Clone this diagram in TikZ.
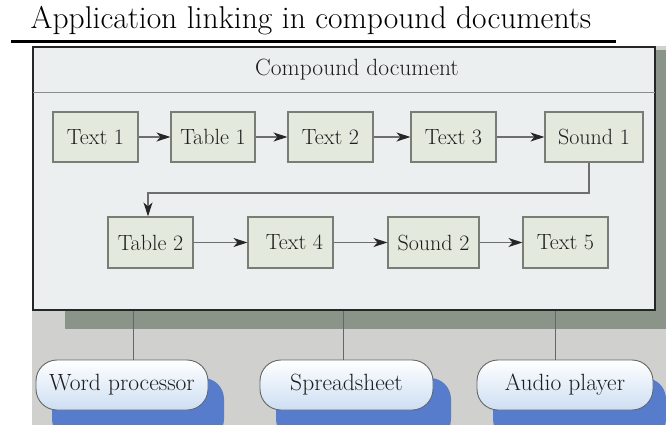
\documentclass[tikz,border=0pt]{standalone}
\usetikzlibrary{arrows.meta,calc}
\definecolor{bggray}{RGB}{208,208,206}
\definecolor{shadowgray}{RGB}{139,148,137}
\definecolor{docfill}{RGB}{236,239,240}
\definecolor{boxfill}{RGB}{228,233,221}
\definecolor{boxline}{RGB}{120,126,118}
\definecolor{linkgray}{RGB}{110,110,110}
\definecolor{pillblue}{RGB}{88,124,204}
\definecolor{pilledge}{RGB}{205,222,242}
\definecolor{txt}{RGB}{30,30,30}
\tikzset{
  docitem/.style={draw=boxline, fill=boxfill, line width=1.1pt, minimum width=85pt, minimum height=50pt, inner sep=0pt, font=\fontsize{22}{24}\selectfont, text=txt},
  pill/.style={draw=black!60, line width=0.9pt, rounded corners=21pt, top color=white, bottom color=pilledge, minimum height=50pt, inner sep=0pt, font=\fontsize{23.5}{25}\selectfont, text=txt},
  pillshadow/.style={fill=pillblue, rounded corners=21pt},
  link/.style={draw=linkgray, line width=1.1pt, -{Stealth[length=14pt,width=9pt,inset=4pt,color=black!85]}},
  tie/.style={draw=black!60, line width=1pt}
}
\begin{document}
\begin{tikzpicture}[x=1pt,y=-1pt]
\clip (0,0) rectangle (666,425);
\fill[white] (0,0) rectangle (666,425);
% title
\node[anchor=base, font=\fontsize{31.5}{34}\selectfont, inner sep=0pt] (title) at (311,29) {Application linking in compound documents};
\coordinate (ul1) at (11,42);
\coordinate (ul2) at (616,42);
\draw[line width=3pt] (ul1) -- (ul2);
% backgrounds
\fill[bggray] (32,46) rectangle (680,440);
\fill[shadowgray] (65,50) rectangle (680,329);
\node[draw=black!85, line width=2.4pt, fill=docfill, minimum width=622pt, minimum height=263pt, inner sep=0pt] (doc) at (344,178.5) {};
\coordinate (hl) at (0,93);
\draw[draw=black!45, line width=1pt] ($(doc.west |- hl)+(1.5,0)$) -- ($(doc.east |- hl)+(-1.5,0)$);
\node[font=\fontsize{23.5}{25}\selectfont, text=txt] (hdr) at (357,70) {Compound document};
% row 1
\node[docitem] (t1) at (95.5,137) {Text 1};
\node[docitem, minimum width=84pt] (tb1) at (213,137) {Table 1};
\node[docitem] (t2) at (330.5,137) {Text 2};
\node[docitem] (t3) at (453.5,137) {Text 3};
\node[docitem, minimum width=98pt] (s1) at (594,137) {Sound 1};
% row 2
\node[docitem, minimum height=51pt] (tb2) at (150.5,242.5) {Table 2};
\node[docitem, minimum height=51pt] (t4) at (290.5,242.5) {\hspace{8pt}Text 4};
\node[docitem, minimum height=51pt, minimum width=91pt] (s2) at (433.5,242.5) {Sound 2};
\node[docitem, minimum height=51pt] (t5) at (565.5,242.5) {Text 5};
% links
\draw[link] (t1) -- (tb1);
\draw[link] (tb1) -- (t2);
\draw[link] (t2) -- (t3);
\draw[link] (t3) -- (s1);
\coordinate (k1) at (589,193);
\coordinate (k2) at (148,193);
\draw[link] (s1.south -| k1) -- (k1) -- (k2) -- (tb2.north -| k2);
\draw[link] (tb2) -- (t4);
\draw[link] (t4) -- (s2);
\draw[link] (s2) -- (t5);
% applications
\fill[pillshadow] (52,378) rectangle (224,440);
\fill[pillshadow] (276,378) rectangle (451,440);
\fill[pillshadow] (493,378) rectangle (666,440);
\node[pill, minimum width=172pt] (wp) at (122,385) {Word processor};
\node[pill, minimum width=173pt] (ss) at (346.5,385) {Spreadsheet};
\node[pill, minimum width=176pt] (ap) at (565,385) {Audio player};
\coordinate (c1) at (133,0);
\coordinate (c2) at (343,0);
\coordinate (c3) at (555,0);
\draw[tie] (doc.south -| c1) -- (wp.north -| c1);
\draw[tie] (doc.south -| c2) -- (ss.north -| c2);
\draw[tie] (doc.south -| c3) -- (ap.north -| c3);
\end{tikzpicture}
\end{document}
